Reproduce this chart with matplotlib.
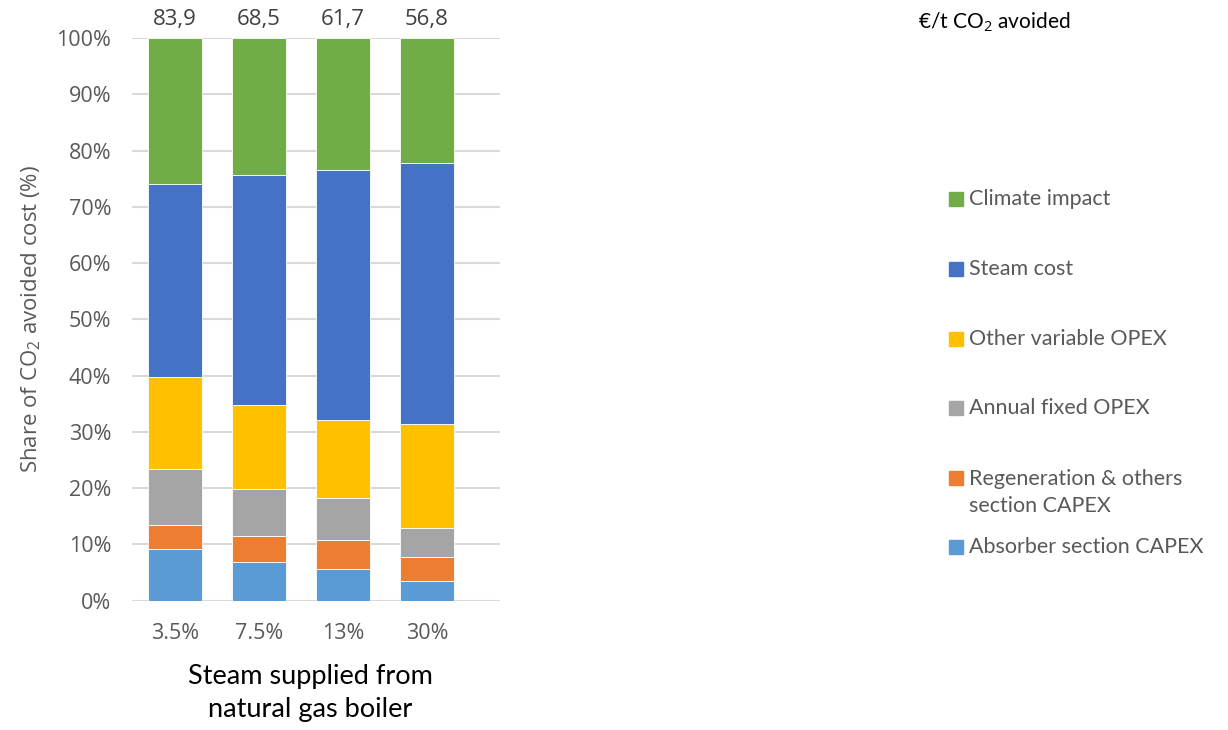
import matplotlib
matplotlib.use("Agg")
import matplotlib.pyplot as plt
from matplotlib.patches import Rectangle
from matplotlib.ticker import FuncFormatter

# Доли (%) компонентов стоимости по сценариям
scenarios = ["3.5%", "7.5%", "13%", "30%"]
totals = ["83,9", "68,5", "61,7", "56,8"]

absorber = [9.1, 6.8, 5.6, 3.5]
regeneration = [4.3, 4.7, 5.1, 4.2]
fixed_opex = [10.0, 8.3, 7.5, 5.3]
other_opex = [16.3, 15.0, 14.0, 18.4]
steam = [34.3, 40.8, 44.3, 46.4]
climate = [26.0, 24.4, 23.5, 22.2]

series = [
    ("Absorber section CAPEX", absorber, "#5B9BD5"),
    ("Regeneration & others\nsection CAPEX", regeneration, "#ED7D31"),
    ("Annual fixed OPEX", fixed_opex, "#A5A5A5"),
    ("Other variable OPEX", other_opex, "#FFC000"),
    ("Steam cost", steam, "#4472C4"),
    ("Climate impact", climate, "#70AD47"),
]

plt.rcParams["font.family"] = ["Open Sans", "DejaVu Sans"]
plt.rcParams["mathtext.fontset"] = "custom"
plt.rcParams["mathtext.rm"] = "Open Sans"
plt.rcParams["mathtext.it"] = "Open Sans"

W, H = 1228, 730
fig = plt.figure(figsize=(W / 100, H / 100), dpi=100)
ax = fig.add_axes([132 / W, 1 - 600.7 / H, 368 / W, 562.7 / H])

x = list(range(len(scenarios)))
bottom = [0.0] * len(scenarios)
for name, vals, color in series:
    ax.bar(x, vals, width=0.643, bottom=bottom, color=color,
           edgecolor="white", linewidth=0.6, zorder=3)
    bottom = [b + v for b, v in zip(bottom, vals)]

# итоговая стоимость над столбцами
for xi, top, lab in zip(x, bottom, totals):
    ax.annotate(lab, (xi, min(top, 100)), xytext=(0, 6), textcoords="offset points",
                ha="center", va="bottom", fontsize=16, color="#404040")

ax.set_xlim(-0.508, 3.87)
ax.set_ylim(0, 100)
ax.set_yticks(range(0, 101, 10))
ax.yaxis.set_major_formatter(FuncFormatter(lambda v, p: f"{v:.0f}%"))
ax.set_xticks(x)
ax.set_xticklabels(scenarios)
ax.tick_params(axis="both", length=0, labelsize=15.5, labelcolor="#595959")
ax.tick_params(axis="x", pad=16)
ax.tick_params(axis="y", pad=15)
ax.grid(axis="y", color="#D9D9D9", linewidth=1.5, zorder=0)
for s in ax.spines.values():
    s.set_visible(False)

ax.set_ylabel("Share of CO$_2$ avoided cost (%)", fontsize=16, color="#595959")
ax.yaxis.set_label_coords((43 - 132) / 368, 0.5)

fig.text(310 / W, 1 - 693 / H, "Steam supplied from\nnatural gas boiler", fontsize=19.5,
         family=["Lato", "DejaVu Sans"], color="black", ha="center", va="center",
         linespacing=1.42)

fig.text(918 / W, 1 - 22 / H, "€/t CO$_2$ avoided", fontsize=15,
         color="black", va="center", ha="left", family=["Lato", "DejaVu Sans"])

# легенда: сверху вниз в обратном порядке
legend_y = [199, 269, 339, 408, 478, 547]
line_step = 29
for (name, vals, color), ly in zip(reversed(series), legend_y):
    fig.patches.append(Rectangle((949 / W, 1 - (ly + 7) / H), 14 / W, 14 / H,
                                 transform=fig.transFigure, color=color))
    n_lines = name.count("\n") + 1
    cy = ly + (n_lines - 1) * line_step / 2
    fig.text(969 / W, 1 - cy / H, name, fontsize=15.5, color="#595959",
             va="center", ha="left", linespacing=1.48, family=["Lato", "DejaVu Sans"])

fig.savefig("out.png", dpi=100)
